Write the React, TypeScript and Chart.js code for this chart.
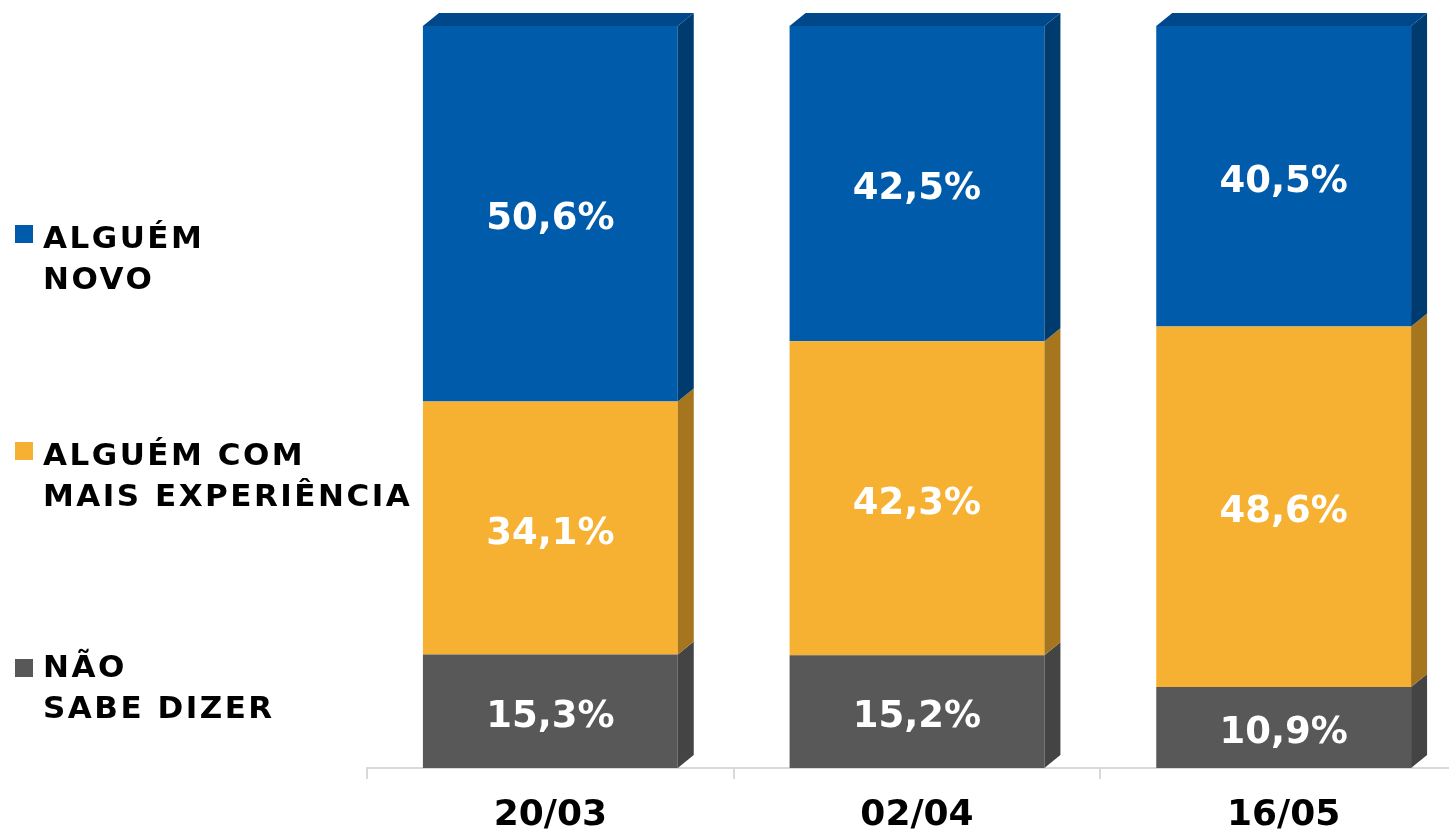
import React, { useEffect, useRef } from 'react';
import { Chart, registerables } from 'chart.js';

Chart.register(...registerables);

const categories = ['20/03', '02/04', '16/05'];
const naoSabeDizer = [15.3, 15.2, 10.9];
const comMaisExperiencia = [34.1, 42.3, 48.6];
const alguemNovo = [50.6, 42.5, 40.5];
const legendLabels = [
  ['ALGUÉM', 'NOVO'],
  ['ALGUÉM COM', 'MAIS EXPERIÊNCIA'],
  ['NÃO', 'SABE DIZER'],
];

const FONT = "'DejaVu Sans', 'Open Sans', sans-serif";

const palette = [
  { front: '#585858', side: '#444444', top: '#4a4a4a' },
  { front: '#F6B133', side: '#A6761F', top: '#C98F26' },
  { front: '#005BAA', side: '#003B70', top: '#00488A' },
];

const DX = 16;
const DY = 13;

const fmt = (v: number) => v.toFixed(1).replace('.', ',') + '%';

const threeDPlugin = {
  id: 'threeD',
  afterDatasetsDraw(chart: any) {
    const ctx = chart.ctx;
    const n = chart.data.datasets.length;
    ctx.save();
    for (let d = 0; d < n; d++) {
      const meta = chart.getDatasetMeta(d);
      const col = palette[d];
      meta.data.forEach((el: any) => {
        const { x, y, base, width } = el.getProps(['x', 'y', 'base', 'width'], true);
        const right = x + width / 2;
        const left = x - width / 2;
        ctx.fillStyle = col.side;
        ctx.beginPath();
        ctx.moveTo(right, y);
        ctx.lineTo(right + DX, y - DY);
        ctx.lineTo(right + DX, base - DY);
        ctx.lineTo(right, base);
        ctx.closePath();
        ctx.fill();
        if (d === n - 1) {
          ctx.fillStyle = col.top;
          ctx.beginPath();
          ctx.moveTo(left, y);
          ctx.lineTo(left + DX, y - DY);
          ctx.lineTo(right + DX, y - DY);
          ctx.lineTo(right, y);
          ctx.closePath();
          ctx.fill();
        }
      });
    }
    // value labels
    ctx.fillStyle = '#ffffff';
    ctx.font = `bold 37px ${FONT}`;
    ctx.textAlign = 'center';
    ctx.textBaseline = 'middle';
    for (let d = 0; d < n; d++) {
      const meta = chart.getDatasetMeta(d);
      const values = chart.data.datasets[d].data as number[];
      meta.data.forEach((el: any, i: number) => {
        const { x, y, base } = el.getProps(['x', 'y', 'base'], true);
        ctx.fillText(fmt(values[i]), x, (y + base) / 2 + 6);
      });
    }
    ctx.restore();
  },
};

const legendPlugin = {
  id: 'sideLegend',
  afterDraw(chart: any) {
    const ctx = chart.ctx;
    const squareTops = [225, 442, 659];
    const baselines = [248, 465, 677];
    const colors = [palette[2].front, palette[1].front, palette[0].front];
    ctx.save();
    ctx.font = `bold 31px ${FONT}`;
    ctx.textAlign = 'left';
    ctx.textBaseline = 'alphabetic';
    ctx.letterSpacing = '2.5px';
    legendLabels.forEach((lines, i) => {
      ctx.fillStyle = colors[i];
      ctx.fillRect(15, squareTops[i], 18, 18);
      ctx.fillStyle = '#000000';
      lines.forEach((t, j) => {
        ctx.fillText(t, 43, baselines[i] + j * 41);
      });
    });
    ctx.restore();
  },
};

export default function App() {
  const ref = useRef<HTMLCanvasElement>(null);
  useEffect(() => {
    if (!ref.current) return;
    const chart = new Chart(ref.current, {
      type: 'bar',
      data: {
        labels: categories,
        datasets: [
          { label: 'NÃO SABE DIZER', data: naoSabeDizer, backgroundColor: palette[0].front },
          { label: 'ALGUÉM COM MAIS EXPERIÊNCIA', data: comMaisExperiencia, backgroundColor: palette[1].front },
          { label: 'ALGUÉM NOVO', data: alguemNovo, backgroundColor: palette[2].front },
        ],
      },
      options: {
        responsive: false,
        animation: false,
        devicePixelRatio: 1,
        layout: { padding: { left: 367, right: 13, top: 26, bottom: 0 } },
        datasets: { bar: { barPercentage: 0.695, categoryPercentage: 1, borderWidth: 0 } },
        plugins: { legend: { display: false }, tooltip: { enabled: false } },
        scales: {
          x: {
            stacked: true,
            offset: true,
            grid: {
              display: true,
              offset: true,
              drawOnChartArea: false,
              drawTicks: true,
              tickLength: 11,
              color: '#d9d9d9',
              lineWidth: 2,
            },
            border: { display: true, color: '#d9d9d9', width: 2 },
            ticks: {
              color: '#000000',
              font: { family: FONT, size: 36, weight: 'bold' },
              padding: 15,
              maxRotation: 0,
            },
            afterFit: (s: any) => {
              s.height = 64;
            },
          },
          y: { stacked: true, display: false, min: 0, max: 100 },
        },
      },
      plugins: [threeDPlugin, legendPlugin],
    } as any);
    return () => chart.destroy();
  }, []);
  return (
    <div style={{ position: 'fixed', left: 0, top: 0, width: 1449, height: 832, overflow: 'hidden', background: '#ffffff' }}>
      <canvas ref={ref} width={1480} height={832} style={{ display: 'block' }} />
    </div>
  );
}
